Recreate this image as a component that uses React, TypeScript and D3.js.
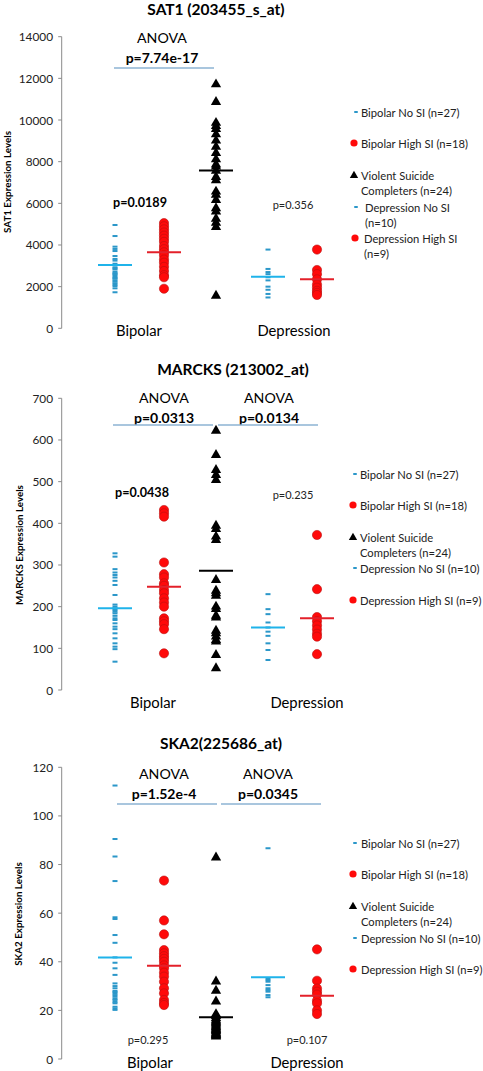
import React from "react";
import * as d3 from "d3";

// ---------- DATA ----------
const groupNames = [
  "Bipolar No SI (n=27)",
  "Bipolar High SI (n=18)",
  "Violent Suicide Completers (n=24)",
  "Depression No SI (n=10)",
  "Depression High SI (n=9)",
];
const groupKinds = ["dash", "circle", "triangle", "dash", "circle"];
const diagnosisLabels = ["Bipolar", "Depression"];

// SAT1 (203455_s_at)
const sat1BipolarNoSI = [4960, 4430, 3920, 3810, 3710, 3470, 3330, 3250, 3100, 3040, 2930, 2880, 2830, 2720, 2650, 2610, 2550, 2480, 2420, 2380, 2300, 2240, 2160, 2100, 2030, 1920, 1730];
const sat1BipolarHighSI = [5050, 4900, 4750, 4600, 4450, 4300, 4150, 3950, 3800, 3650, 3500, 3300, 3150, 2950, 2750, 2550, 2450, 1900];
const sat1Violent = [11750, 10900, 9900, 9750, 9600, 9350, 9050, 8750, 8450, 8150, 7900, 7800, 7600, 7300, 7150, 6600, 6450, 6200, 5800, 5650, 5300, 5100, 4900, 1600];
const sat1DepressionNoSI = [3780, 2850, 2700, 2600, 2450, 2300, 2000, 1850, 1650, 1480];
const sat1DepressionHighSI = [3780, 2800, 2600, 2350, 2100, 1950, 1800, 1700, 1600];
const sat1Means = [3040, 3650, 7580, 2480, 2350];
const sat1Ticks = [0, 2000, 4000, 6000, 8000, 10000, 12000, 14000];
const sat1Anova = ["p=7.74e-17"];
const sat1Pairwise = ["p=0.0189", "p=0.356"];

// MARCKS (213002_at)
const marcksBipolarNoSI = [328, 320, 290, 282, 276, 270, 262, 252, 228, 205, 200, 196, 192, 188, 184, 178, 172, 168, 160, 152, 146, 136, 124, 112, 104, 98, 68];
const marcksBipolarHighSI = [432, 424, 416, 306, 278, 270, 256, 250, 240, 232, 220, 210, 200, 172, 165, 158, 146, 88];
const marcksViolent = [624, 566, 530, 518, 506, 396, 388, 370, 362, 266, 240, 234, 228, 202, 196, 180, 176, 144, 138, 130, 122, 118, 86, 54];
const marcksDepressionNoSI = [230, 194, 182, 162, 150, 140, 130, 112, 96, 72];
const marcksDepressionHighSI = [372, 242, 175, 165, 155, 145, 135, 128, 86];
const marcksMeans = [196, 248, 286, 150, 172];
const marcksTicks = [0, 100, 200, 300, 400, 500, 600, 700];
const marcksAnova = ["p=0.0313", "p=0.0134"];
const marcksPairwise = ["p=0.0438", "p=0.235"];

// SKA2 (225686_at)
const ska2BipolarNoSI = [112.5, 90.5, 83.3, 73.2, 58.3, 57.6, 51, 47.8, 41.8, 39.6, 37.3, 34.6, 31.1, 30, 29.1, 28, 27.5, 27, 26.3, 25.6, 24.8, 24.3, 23.5, 22.9, 21.5, 20.8, 20.2];
const ska2BipolarHighSI = [73.4, 57, 51.3, 44.8, 43.5, 42.3, 41.2, 40, 38.5, 37.3, 35.5, 33.9, 31.8, 29.1, 27, 24.3, 23, 22.2];
const ska2Violent = [83.2, 32.2, 28.4, 24, 18.8, 18, 17.2, 16.5, 15.8, 15.4, 15, 14.5, 14, 13.5, 13, 12.6, 12.2, 11.8, 11.2, 10.8, 10.5, 10.2, 9.9, 9.6];
const ska2DepressionNoSI = [86.7, 33.2, 32.5, 31.8, 30.4, 29.1, 28.4, 27.7, 26.3, 25.4];
const ska2DepressionHighSI = [45.1, 32.2, 29, 27.7, 26.5, 24, 22.9, 20, 18.5];
const ska2Means = [41.8, 38.4, 17.2, 33.6, 26];
const ska2Ticks = [0, 20, 40, 60, 80, 100, 120];
const ska2Anova = ["p=1.52e-4", "p=0.0345"];
const ska2Pairwise = ["p=0.295", "p=0.107"];

// ---------- STYLE / LAYOUT ----------
const FONT = "Lato, 'Open Sans', sans-serif";
const DASH_COLOR = "#2b97c9";
const BLUE_MEAN = "#1fb3ea";
const RED = "#ff0a0a";
const RED_STROKE = "#b81010";
const RED_MEAN = "#e3202a";
const ANOVA_LINE = "#8db3d3";
const AXIS = "#8a8a8a";
const columnX = [115, 164, 216, 268, 317];
const meanColors = [BLUE_MEAN, RED_MEAN, "#000", BLUE_MEAN, RED_MEAN];

type Panel = {
  title: string;
  titleX: number;
  titleY: number;
  yLabel: string;
  yLabelX: number;
  yLabelY: number;
  ticks: number[];
  yTop: number;
  yBottom: number;
  series: number[][];
  means: number[];
  anova: string[];
  anovaX: number[];
  anovaY: number;
  anovaLines: [number, number][];
  anovaLineY: number;
  pairwise: string[];
  pairBold: boolean[];
  pairX: number[];
  pairY: number[];
  diagX: number[];
  diagY: number;
  legend: { lines: string[]; y: number; textX: number; markerX: number }[];
};

const lg = (lines: string[], y: number, textX: number, markerX: number) => ({ lines, y, textX, markerX });

const panels: Panel[] = [
  {
    title: "SAT1 (203455_s_at)", titleX: 216, titleY: 9,
    yLabel: "SAT1 Expression Levels", yLabelX: 7, yLabelY: 182,
    ticks: sat1Ticks, yTop: 36.7, yBottom: 328.3,
    series: [sat1BipolarNoSI, sat1BipolarHighSI, sat1Violent, sat1DepressionNoSI, sat1DepressionHighSI],
    means: sat1Means,
    anova: sat1Anova, anovaX: [162], anovaY: 37, anovaLines: [[114, 214]], anovaLineY: 68,
    pairwise: sat1Pairwise, pairBold: [true, false], pairX: [140, 293], pairY: [202, 204],
    diagX: [139, 294], diagY: 330,
    legend: [
      lg(["Bipolar No SI (n=27)"], 112, 361, 356),
      lg(["Bipolar High SI (n=18)"], 143, 361, 354),
      lg(["Violent Suicide", "Completers (n=24)"], 175, 361, 354),
      lg(["Depression No SI", "(n=10)"], 207, 365, 356),
      lg(["Depression High SI", "(n=9)"], 238, 364, 355),
    ],
  },
  {
    title: "MARCKS (213002_at)", titleX: 233, titleY: 369,
    yLabel: "MARCKS Expression Levels", yLabelX: 19, yLabelY: 545,
    ticks: marcksTicks, yTop: 398.3, yBottom: 690,
    series: [marcksBipolarNoSI, marcksBipolarHighSI, marcksViolent, marcksDepressionNoSI, marcksDepressionHighSI],
    means: marcksMeans,
    anova: marcksAnova, anovaX: [164, 269], anovaY: 397, anovaLines: [[113, 213], [218, 318]], anovaLineY: 425,
    pairwise: marcksPairwise, pairBold: [true, false], pairX: [142, 293], pairY: [492, 494],
    diagX: [153, 307], diagY: 702,
    legend: [
      lg(["Bipolar No SI (n=27)"], 474, 360, 355),
      lg(["Bipolar High SI (n=18)"], 505, 360, 353),
      lg(["Violent Suicide", "Completers (n=24)"], 537, 360, 353),
      lg(["Depression No SI (n=10)"], 568, 360, 355),
      lg(["Depression High SI (n=9)"], 600, 360, 353),
    ],
  },
  {
    title: "SKA2(225686_at)", titleX: 221, titleY: 743,
    yLabel: "SKA2 Expression Levels", yLabelX: 18, yLabelY: 914,
    ticks: ska2Ticks, yTop: 767.3, yBottom: 1059,
    series: [ska2BipolarNoSI, ska2BipolarHighSI, ska2Violent, ska2DepressionNoSI, ska2DepressionHighSI],
    means: ska2Means,
    anova: ska2Anova, anovaX: [164, 268], anovaY: 773, anovaLines: [[117, 217], [221, 321]], anovaLineY: 804,
    pairwise: ska2Pairwise, pairBold: [false, false], pairX: [148, 307], pairY: [1039, 1039],
    diagX: [150, 307], diagY: 1062,
    legend: [
      lg(["Bipolar No SI (n=27)"], 843, 361, 355),
      lg(["Bipolar High SI (n=18)"], 874, 361, 353),
      lg(["Violent Suicide", "Completers (n=24)"], 906, 361, 353),
      lg(["Depression No SI (n=10)"], 938, 361, 355),
      lg(["Depression High SI (n=9)"], 969, 361, 353),
    ],
  },
];

const triPath = d3.symbol().type(d3.symbolTriangle).size(46)() as string;
const triLegend = d3.symbol().type(d3.symbolTriangle).size(30)() as string;

function Marker({ kind, x, y, legend }: { kind: string; x: number; y: number; legend?: boolean }) {
  if (kind === "dash") {
    const w = legend ? 3.5 : 5;
    return <rect x={x - w / 2} y={y - 1} width={w} height={2} fill={DASH_COLOR} />;
  }
  if (kind === "circle") {
    return <circle cx={x} cy={y} r={legend ? 3.6 : 4.6} fill={RED} stroke={legend ? "none" : RED_STROKE} strokeWidth={0.6} />;
  }
  return <path d={legend ? triLegend : triPath} transform={`translate(${x},${y + (legend ? 0.5 : 0.8)})`} fill="#000" />;
}

function PanelView({ p }: { p: Panel }) {
  const yMax = p.ticks[p.ticks.length - 1];
  const y = d3.scaleLinear().domain([0, yMax]).range([p.yBottom, p.yTop]);
  const axisX = 61.7;
  return (
    <g>
      <text x={p.titleX} y={p.titleY} textAnchor="middle" dominantBaseline="central" fontFamily={FONT} fontWeight="bold" fontSize={15.5} fill="#000">
        {p.title}
      </text>
      <text
        transform={`translate(${p.yLabelX},${p.yLabelY}) rotate(-90)`}
        textAnchor="middle" dominantBaseline="central" fontFamily={FONT} fontWeight="bold" fontSize={9.8} fill="#000"
      >
        {p.yLabel}
      </text>
      {/* y axis */}
      <line x1={axisX} x2={axisX} y1={y(0)} y2={y(yMax)} stroke={AXIS} strokeWidth={1} />
      {p.ticks.map((t) => (
        <g key={t}>
          <line x1={axisX - 3.5} x2={axisX} y1={y(t)} y2={y(t)} stroke={AXIS} strokeWidth={1} />
          <text x={53} y={y(t)} textAnchor="end" dominantBaseline="central" fontFamily={FONT} fontSize={11.8} fill="#222">
            {t}
          </text>
        </g>
      ))}
      {/* ANOVA annotations */}
      {p.anova.map((a, i) => (
        <g key={a}>
          <text x={p.anovaX[i]} y={p.anovaY} textAnchor="middle" dominantBaseline="central" fontFamily={FONT} fontSize={14.2} fill="#000">
            ANOVA
          </text>
          <text x={p.anovaX[i]} y={p.anovaY + 20} textAnchor="middle" dominantBaseline="central" fontFamily={FONT} fontWeight="bold" fontSize={14} fill="#000">
            {a}
          </text>
          <line x1={p.anovaLines[i][0]} x2={p.anovaLines[i][1]} y1={p.anovaLineY} y2={p.anovaLineY} stroke={ANOVA_LINE} strokeWidth={1.3} />
        </g>
      ))}
      {/* pairwise p values */}
      {p.pairwise.map((s, i) => (
        <text key={s} x={p.pairX[i]} y={p.pairY[i]} textAnchor="middle" dominantBaseline="central" fontFamily={FONT}
          fontWeight={p.pairBold[i] ? "bold" : "normal"} fontSize={p.pairBold[i] ? 12.6 : 11} fill={p.pairBold[i] ? "#000" : "#222"}>
          {s}
        </text>
      ))}
      {/* points */}
      {p.series.map((vals, gi) => (
        <g key={gi}>
          {vals.map((v, j) => (
            <Marker key={j} kind={groupKinds[gi]} x={columnX[gi]} y={y(v)} />
          ))}
        </g>
      ))}
      {/* mean lines */}
      {p.means.map((m, gi) => (
        <line key={gi} x1={columnX[gi] - 17} x2={columnX[gi] + 17} y1={y(m)} y2={y(m)} stroke={meanColors[gi]} strokeWidth={2} />
      ))}
      {/* diagnosis labels */}
      {diagnosisLabels.map((d, i) => (
        <text key={d} x={p.diagX[i]} y={p.diagY} textAnchor="middle" dominantBaseline="central" fontFamily={FONT} fontSize={14.8} fill="#000">
          {d}
        </text>
      ))}
      {/* legend */}
      {p.legend.map((l, i) => (
        <g key={i}>
          <Marker kind={groupKinds[i]} x={l.markerX} y={l.y} legend />
          {l.lines.map((line, k) => (
            <text key={k} x={l.textX} y={l.y + k * 15} dominantBaseline="central" fontFamily={FONT} fontSize={11.2} fill="#222">
              {line}
            </text>
          ))}
        </g>
      ))}
    </g>
  );
}

export default function App() {
  return (
    <svg width={483} height={1071} viewBox="0 0 483 1071" style={{ position: "absolute", left: 0, top: 0, background: "#fff" }}>
      <title>{groupNames.join(", ")}</title>
      <rect width={483} height={1071} fill="#fff" />
      {panels.map((p) => (
        <PanelView key={p.title} p={p} />
      ))}
    </svg>
  );
}
